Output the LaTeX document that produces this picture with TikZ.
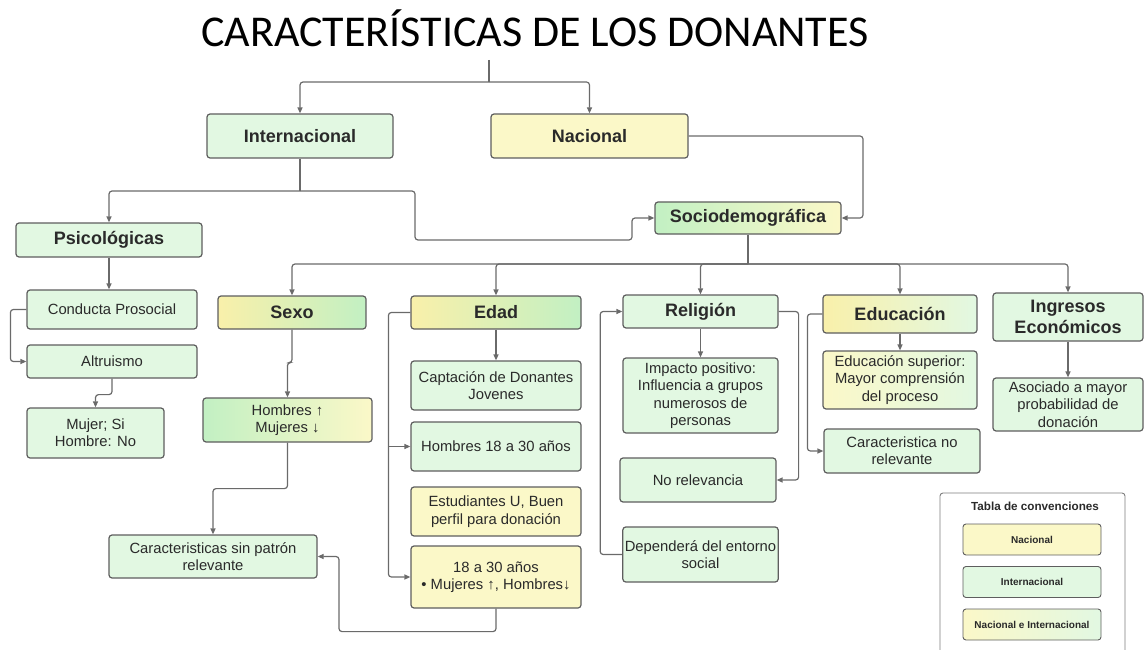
\documentclass[tikz,border=0pt]{standalone}
\usepackage{fontspec}
\setmainfont{Liberation Sans}
\newfontfamily\titulofont{Carlito}
\usetikzlibrary{arrows.meta, positioning, calc}

\definecolor{verde}{HTML}{E2F8E2}
\definecolor{verdefuerte}{HTML}{C2F0C3}
\definecolor{amarillo}{HTML}{FBF8C8}
\definecolor{amarillofuerte}{HTML}{F9F0AA}
\definecolor{borde}{HTML}{5E5E5E}
\definecolor{linea}{HTML}{6A6A6A}
\definecolor{texto}{HTML}{2A2A2A}

\tikzset{
  caja/.style={draw=borde, line width=1.2pt, rounded corners=3pt, align=center, text=texto,
    inner sep=2pt, font=\fontsize{14.8}{17.4}\selectfont},
  cabecera/.style={caja, font=\fontsize{18}{21.5}\selectfont\bfseries},
  leyenda/.style={caja, line width=0.9pt, minimum width=138pt, minimum height=31pt,
    font=\fontsize{10}{12}\selectfont\bfseries},
  cverde/.style={fill=verde},
  camarillo/.style={fill=amarillo},
  mixtoAV/.style={left color=amarillofuerte, middle color=white, right color=verdefuerte},
  mixtoVA/.style={left color=verdefuerte, middle color=white, right color=amarillo},
  mixtoEdu/.style={left color=amarillofuerte, middle color=verde, right color=verde},
  conector/.style={draw=linea, line width=1.2pt, rounded corners=3pt},
  flecha/.style={conector, ->},
}

\begin{document}
\begin{tikzpicture}[x=1pt, y=-1pt, >={Triangle[length=6pt,width=5pt]}]
    \useasboundingbox (0,0) rectangle (1144,650);

    % Título
    \node[anchor=base, font=\titulofont\fontsize{44}{50}\selectfont, text=black] (titulo) at (535,47) {CARACTERÍSTICAS DE LOS DONANTES};
    \coordinate (raiz) at (489,60);
    \coordinate (r1) at (489,82);

    % Primer nivel
    \node[cabecera, cverde, minimum width=186pt, minimum height=44pt] (inter) at (300,136) {Internacional};
    \node[cabecera, camarillo, minimum width=197pt, minimum height=44pt] (nac) at (589.5,136) {Nacional};
    \node[cabecera, mixtoVA, minimum width=186pt, minimum height=32pt] (socio) at (748,218) {Sociodemográfica};
    \node[cabecera, cverde, minimum width=186pt, minimum height=34pt] (psico) at (109,240) {Psicológicas};

    % Psicológicas
    \node[caja, cverde, minimum width=170pt, minimum height=39pt] (conducta) at (112,309.5) {Conducta Prosocial};
    \node[caja, cverde, minimum width=170pt, minimum height=33pt] (altru) at (112,361.5) {Altruismo};
    \node[caja, cverde, minimum width=137pt, minimum height=50pt] (mujer) at (95.5,433) {Mujer; Si\\Hombre: No};

    % Sexo
    \node[cabecera, mixtoAV, minimum width=148pt, minimum height=33pt] (sexo) at (292,312.5) {Sexo};
    \node[caja, mixtoVA, minimum width=169pt, minimum height=44pt] (hombres) at (287.5,420) {Hombres ↑\\Mujeres ↓};
    \node[caja, cverde, minimum width=208pt, minimum height=43pt] (sinpatron) at (213,556.5) {Caracteristicas sin patrón\\relevante};

    % Edad
    \node[cabecera, mixtoAV, minimum width=170pt, minimum height=33pt] (edad) at (496,312.5) {Edad};
    \node[caja, cverde, minimum width=170pt, minimum height=49pt] (captacion) at (496,385.5) {Captación de Donantes\\Jovenes};
    \node[caja, cverde, minimum width=170pt, minimum height=49pt] (h18) at (496,446.5) {Hombres 18 a 30 años};
    \node[caja, camarillo, minimum width=170pt, minimum height=49pt] (estud) at (496,511.5) {Estudiantes U, Buen\\perfil para donación};
    \node[caja, camarillo, minimum width=170pt, minimum height=62pt] (d18) at (496,577) {18 a 30 años\\• Mujeres ↑, Hombres↓};

    % Religión
    \node[cabecera, cverde, minimum width=155pt, minimum height=33pt] (relig) at (700.5,311.5) {Religión};
    \node[caja, cverde, minimum width=155pt, minimum height=75pt] (impacto) at (700.5,395.5) {Impacto positivo:\\Influencia a grupos\\numerosos de\\personas};
    \node[caja, cverde, minimum width=156pt, minimum height=44pt] (norel) at (698,480) {No relevancia};
    \node[caja, cverde, minimum width=155pt, minimum height=55pt] (depende) at (700.5,554.5) {Dependerá del entorno\\social};

    % Educación
    \node[cabecera, mixtoEdu, minimum width=154pt, minimum height=38pt] (educ) at (900,314) {Educación};
    \node[caja, mixtoEdu, left color=amarillo, minimum width=154pt, minimum height=58pt] (edsup) at (900,380) {Educación superior:\\Mayor comprensión\\del proceso};
    \node[caja, cverde, minimum width=156pt, minimum height=44pt] (carnorel) at (902,451) {Caracteristica no\\relevante};

    % Ingresos
    \node[cabecera, cverde, minimum width=150pt, minimum height=48pt] (ingr) at (1068,317) {Ingresos\\Económicos};
    \node[caja, cverde, minimum width=150pt, minimum height=53pt] (asociado) at (1068,404.5) {Asociado a mayor\\probabilidad de\\donación};

    % Tabla de convenciones
    \draw[draw=borde!80, line width=0.9pt, rounded corners=3pt] (940,650) -- (940,493) -- (1125,493) -- (1125,650);
    \node[font=\fontsize{11.7}{14}\selectfont\bfseries, text=texto] (tabla) at (1035,506) {Tabla de convenciones};
    \node[leyenda, camarillo] (leyNac) at (1032,539.5) {Nacional};
    \node[leyenda, cverde] (leyInt) at (1032,582) {Internacional};
    \node[leyenda, mixtoEdu, left color=amarillo] (leyMix) at (1032,624.5) {Nacional e Internacional};

    % Conectores
    \draw[conector] (raiz) -- (r1);
    \draw[flecha] (r1) -| (inter);
    \draw[flecha] (r1) -| (nac);

    \coordinate (i1) at (300,191);
    \draw[conector] (inter) -- (i1);
    \draw[flecha] (i1) -| (psico);
    \draw[flecha] (i1) -| (415,240) -| (632,218) -- (socio.west);
    \draw[flecha] (nac.east) -| (863,218) -- (socio.east);

    \coordinate (s1) at (748,264);
    \draw[conector] (socio) -- (s1);
    \foreach \hijo in {sexo, edad, relig, educ, ingr}
        \draw[flecha] (s1) -| (\hijo);

    \draw[flecha] (psico.south) -- (psico.south |- conducta.north);
    \draw[flecha] (conducta.west) -- ++(-16,0) |- (altru.west);
    \draw[flecha] (altru.south) -- ++(0,16) -| (mujer.north);

    \draw[flecha] (sexo.south) -- ++(0,33) -| (hombres.north);
    \draw[flecha] (hombres.south) -- ++(0,46) -| (sinpatron.north);
    \draw[flecha] (d18.south) -- ++(0,23) -| (339,556.5) -- (sinpatron.east);

    \draw[flecha] (edad) -- (captacion);
    \draw[flecha] (edad.west) -- ++(-22,0) coordinate (e1) |- (d18.west);
    \draw[flecha] (e1 |- h18.west) -- (h18.west);

    \draw[flecha] (relig) -- (impacto);
    \draw[flecha] (relig.east) -- ++(20,0) |- (norel.east);
    \draw[flecha] (depende.west) -- ++(-22,0) |- (relig.west);

    \draw[flecha] (educ) -- (edsup);
    \draw[flecha] (educ.west) -- ++(-15,0) |- (carnorel.west);

    \draw[flecha] (ingr) -- (asociado);
\end{tikzpicture}
\end{document}
